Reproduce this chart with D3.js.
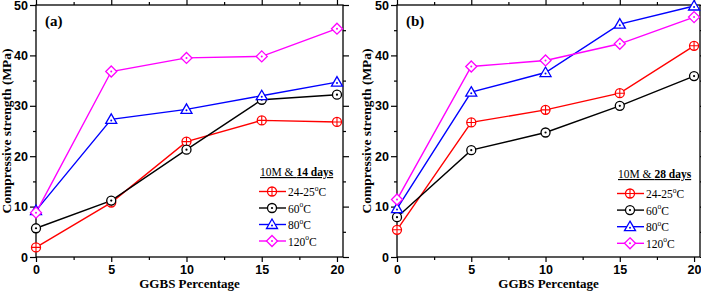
<!DOCTYPE html>
<html><head><meta charset="utf-8">
<script src="https://cdn.jsdelivr.net/npm/d3@7"></script>
<style>
body{margin:0;background:#fff;}
svg{display:block;font-family:"Liberation Serif","Times New Roman",serif;}
</style></head>
<body><svg id="c" width="701" height="292"></svg>
<script>
const ggbs = [0, 5, 10, 15, 20];
const seriesNames = ["24-25", "60", "80", "120"];
const colors = ["#ff0000", "#000000", "#0000ff", "#ff00ff"];
const markers = ["circlePlus", "circleDot", "triangleDot", "diamondDot"];
const days14_2425 = [1.9, 10.8, 22.9, 27.1, 26.8];
const days14_60 = [5.7, 11.2, 21.3, 31.2, 32.2];
const days14_80 = [9.2, 27.3, 29.3, 32.0, 34.7];
const days14_120 = [8.8, 36.8, 39.5, 39.8, 45.3];
const days28_2425 = [5.4, 26.7, 29.2, 32.5, 41.9];
const days28_60 = [7.9, 21.2, 24.7, 30.0, 35.9];
const days28_80 = [9.6, 32.7, 36.6, 46.2, 49.8];
const days28_120 = [11.4, 37.8, 39.0, 42.3, 47.6];
const xTicks = [0, 5, 10, 15, 20];
const yTicks = [0, 10, 20, 30, 40, 50];

const panels = [
  {label:"(a)", days:"14 days", data:[days14_2425, days14_60, days14_80, days14_120],
   x0:36, x1:343, leg:{x:259, ty:176, y0:191.5, dy:16.5}, ytitleX:6},
  {label:"(b)", days:"28 days", data:[days28_2425, days28_60, days28_80, days28_120],
   x0:397, x1:700, leg:{x:617, ty:178, y0:193.5, dy:16.6}, ytitleX:366}
];
const yTop = 5, yBot = 257;
const svg = d3.select("#c");

function drawMarker(g, type, color, cx, cy){
  const m = g.append("g").attr("transform", `translate(${cx},${cy})`);
  const st = {stroke:color, "stroke-width":1.3, fill:"#fff"};
  const apply = s => { for (const k in st) s.attr(k, st[k]); return s; };
  if (type === "circlePlus") {
    apply(m.append("circle").attr("r", 4.5));
    m.append("path").attr("d","M-4.5,0H4.5M0,-4.5V4.5").attr("stroke",color).attr("stroke-width",1.1);
  } else if (type === "circleDot") {
    apply(m.append("circle").attr("r", 4.5));
    m.append("circle").attr("r", 1.1).attr("fill", color);
  } else if (type === "triangleDot") {
    apply(m.append("path").attr("d","M0,-5.5L5.5,4L-5.5,4Z"));
    m.append("circle").attr("r", 1).attr("cy",1).attr("fill", color);
  } else {
    apply(m.append("path").attr("d","M0,-5.5L5.5,0L0,5.5L-5.5,0Z"));
    m.append("circle").attr("r", 1).attr("fill", color);
  }
}

function axisG(g, gen, tr){
  const a = g.append("g").attr("transform", tr).call(gen);
  a.select(".domain").remove();
  a.selectAll(".tick line").attr("stroke-width", 1.2);
  a.selectAll("text").attr("font-size", 12.5).attr("font-weight", "bold").attr("fill", "#000");
  return a;
}

panels.forEach(p => {
  const x = d3.scaleLinear().domain([0, 20.4]).range([p.x0, p.x1]);
  const y = d3.scaleLinear().domain([0, 50]).range([yBot, yTop]);
  const g = svg.append("g");

  const xMinor = d3.range(2.5, 20.4, 5);
  const yMinor = d3.range(5, 50, 10);
  axisG(g, d3.axisBottom(x).tickValues(xTicks).tickSize(5).tickPadding(3).tickFormat(d3.format("d")), `translate(0,${yBot})`);
  axisG(g, d3.axisBottom(x).tickValues(xMinor).tickSize(3).tickFormat(""), `translate(0,${yBot})`);
  axisG(g, d3.axisTop(x).tickValues(xTicks).tickSize(5).tickFormat(""), `translate(0,${yTop})`);
  axisG(g, d3.axisTop(x).tickValues(xMinor).tickSize(3).tickFormat(""), `translate(0,${yTop})`);
  axisG(g, d3.axisLeft(y).tickValues(yTicks).tickSize(6).tickPadding(2).tickFormat(d3.format("d")), `translate(${p.x0},0)`);
  axisG(g, d3.axisLeft(y).tickValues(yMinor).tickSize(3).tickFormat(""), `translate(${p.x0},0)`);
  axisG(g, d3.axisRight(y).tickValues(yTicks).tickSize(6).tickFormat(""), `translate(${p.x1},0)`);
  axisG(g, d3.axisRight(y).tickValues(yMinor).tickSize(3).tickFormat(""), `translate(${p.x1},0)`);

  // frame
  g.append("rect").attr("x", p.x0).attr("y", yTop).attr("width", p.x1 - p.x0)
    .attr("height", yBot - yTop).attr("fill", "none").attr("stroke", "#000").attr("stroke-width", 1.3);

  // axis titles
  g.append("text").attr("x", (x(0) + x(20)) / 2 + 3).attr("y", 288).attr("text-anchor", "middle")
    .attr("font-size", 13).attr("font-weight", "bold").text("GGBS Percentage");
  g.append("text").attr("transform", `translate(${p.ytitleX},${(yTop + yBot) / 2}) rotate(-90)`)
    .attr("text-anchor", "middle").attr("dy", "0.35em")
    .attr("font-size", 13.5).attr("font-weight", "bold").text("Compressive strength (MPa)");
  // panel label
  g.append("text").attr("x", p.x0 + 9).attr("y", 26).attr("font-size", 15).attr("font-weight", "bold").text(p.label);

  // series
  const line = d3.line().x((d, i) => x(ggbs[i])).y(d => y(d));
  p.data.forEach((vals, si) => {
    g.append("path").datum(vals).attr("d", line).attr("fill", "none")
      .attr("stroke", colors[si]).attr("stroke-width", 1.4);
  });
  p.data.forEach((vals, si) => {
    vals.forEach((v, i) => drawMarker(g, markers[si], colors[si], x(ggbs[i]), y(v)));
  });

  // legend
  const L = p.leg;
  const t = g.append("text").attr("x", L.x + 1).attr("y", L.ty).attr("font-size", 11.5)
    .attr("text-decoration", "underline");
  t.append("tspan").text("10M & ");
  t.append("tspan").attr("font-weight", "bold").text(p.days);
  seriesNames.forEach((n, si) => {
    const yy = L.y0 + si * L.dy;
    g.append("line").attr("x1", L.x).attr("x2", L.x + 27).attr("y1", yy).attr("y2", yy)
      .attr("stroke", colors[si]).attr("stroke-width", 1.4);
    drawMarker(g, markers[si], colors[si], L.x + 13, yy);
    const tt = g.append("text").attr("x", L.x + 29).attr("y", yy + 4.5).attr("font-size", 11.5);
    tt.append("tspan").text(n);
    tt.append("tspan").attr("font-size", 7.5).attr("dy", -5.5).text("o");
    tt.append("tspan").attr("dy", 5.5).text("C");
  });
});
</script></body></html>
